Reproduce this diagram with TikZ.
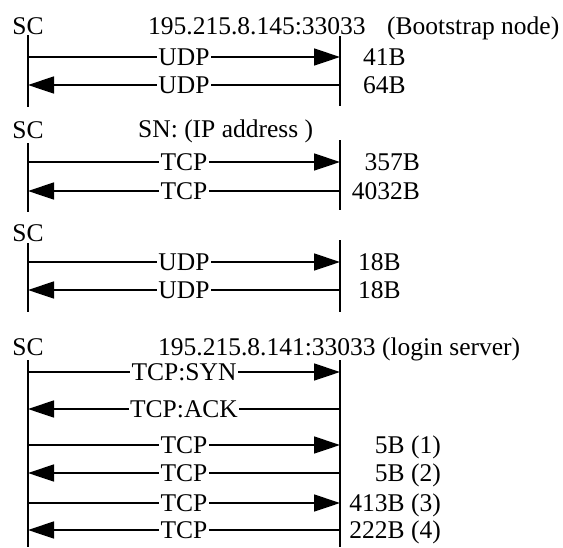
\documentclass[tikz,border=0pt]{standalone}
\usepackage{fontspec}
\setmainfont{Liberation Serif}
\usetikzlibrary{arrows.meta}
\begin{document}
\begin{tikzpicture}[x=1pt,y=-1pt,
  txt/.style={font=\fontsize{25.5}{30}\selectfont, inner sep=0pt, text=black},
  lbl/.style={txt, fill=white, inner xsep=1.5pt, inner ysep=0pt},
  life/.style={line width=1.6pt},
  msg/.style={line width=1.4pt},
  fwd/.style={msg, -{Triangle[length=26pt,width=17pt]}},
  bwd/.style={msg, {Triangle[length=26pt,width=17pt]}-},
]
\useasboundingbox (0,0) rectangle (563,547);

% ---------- Section 1 ----------
\node[txt, anchor=base] (sc1) at (28,34) {SC};
\node[txt, anchor=base west] (t1a) at (148,34) {195.215.8.145:33033};
\node[txt, anchor=base west] (t1b) at (387,34) {(Bootstrap node)};
\coordinate (l1t) at (28,35);  \coordinate (l1b) at (28,107);
\coordinate (r1t) at (340,36); \coordinate (r1b) at (340,106);
\draw[life] (l1t) -- (l1b);
\draw[life] (r1t) -- (r1b);
\coordinate (m1l) at (28,57);  \coordinate (m1r) at (340,57);
\coordinate (m2l) at (28,85);  \coordinate (m2r) at (340,85);
\draw[fwd] (m1l) -- node[lbl] (u1) {UDP} (m1r);
\draw[bwd] (m2l) -- node[lbl] (u2) {UDP} (m2r);
\node[txt, anchor=base west] (b1) at (363,65.5) {41B};
\node[txt, anchor=base west] (b2) at (363,93) {64B};

% ---------- Section 2 ----------
\node[txt, anchor=base] (sc2) at (28,138) {SC};
\node[txt, anchor=base west] (t2) at (138,137) {SN: (IP address )};
\coordinate (l2t) at (28,143);  \coordinate (l2b) at (28,212);
\coordinate (r2t) at (340,140); \coordinate (r2b) at (340,210);
\draw[life] (l2t) -- (l2b);
\draw[life] (r2t) -- (r2b);
\coordinate (m3l) at (28,162);  \coordinate (m3r) at (340,162);
\coordinate (m4l) at (28,191);  \coordinate (m4r) at (340,191);
\draw[fwd] (m3l) -- node[lbl] (u3) {TCP} (m3r);
\draw[bwd] (m4l) -- node[lbl] (u4) {TCP} (m4r);
\node[txt, anchor=base east] (b3) at (420,170.5) {357B};
\node[txt, anchor=base east] (b4) at (420,199.5) {4032B};

% ---------- Section 3 ----------
\node[txt, anchor=base] (sc3) at (28,241.5) {SC};
\coordinate (l3t) at (28,243);  \coordinate (l3b) at (28,312);
\coordinate (r3t) at (340,240); \coordinate (r3b) at (340,312);
\draw[life] (l3t) -- (l3b);
\draw[life] (r3t) -- (r3b);
\coordinate (m5l) at (28,262);  \coordinate (m5r) at (340,262);
\coordinate (m6l) at (28,290);  \coordinate (m6r) at (340,290);
\draw[fwd] (m5l) -- node[lbl] (u5) {UDP} (m5r);
\draw[bwd] (m6l) -- node[lbl] (u6) {UDP} (m6r);
\node[txt, anchor=base west] (b5) at (358,270.5) {18B};
\node[txt, anchor=base west] (b6) at (358,298.5) {18B};

% ---------- Section 4 ----------
\node[txt, anchor=base] (sc4) at (28,355.5) {SC};
\node[txt, anchor=base west] (t4) at (158,355.5) {195.215.8.141:33033 (login server)};
\coordinate (l4t) at (28,360);  \coordinate (l4b) at (28,547);
\coordinate (r4t) at (340,360); \coordinate (r4b) at (340,547);
\draw[life] (l4t) -- (l4b);
\draw[life] (r4t) -- (r4b);
\coordinate (m7l) at (28,372);   \coordinate (m7r) at (340,372);
\coordinate (m8l) at (28,409);   \coordinate (m8r) at (340,409);
\coordinate (m9l) at (28,445);   \coordinate (m9r) at (340,445);
\coordinate (m10l) at (28,473);  \coordinate (m10r) at (340,473);
\coordinate (m11l) at (28,503);  \coordinate (m11r) at (340,503);
\coordinate (m12l) at (28,530);  \coordinate (m12r) at (340,530);
\draw[fwd] (m7l) -- node[lbl] (u7) {TCP:SYN} (m7r);
\draw[bwd] (m8l) -- node[lbl] (u8) {TCP:ACK} (m8r);
\draw[fwd] (m9l) -- node[lbl] (u9) {TCP} (m9r);
\draw[bwd] (m10l) -- node[lbl] (u10) {TCP} (m10r);
\draw[fwd] (m11l) -- node[lbl] (u11) {TCP} (m11r);
\draw[bwd] (m12l) -- node[lbl] (u12) {TCP} (m12r);
\node[txt, anchor=base east] (b9) at (441,453.5) {5B (1)};
\node[txt, anchor=base east] (b10) at (441,481.5) {5B (2)};
\node[txt, anchor=base east] (b11) at (441,511.5) {413B (3)};
\node[txt, anchor=base east] (b12) at (441,538.5) {222B (4)};
\end{tikzpicture}
\end{document}
